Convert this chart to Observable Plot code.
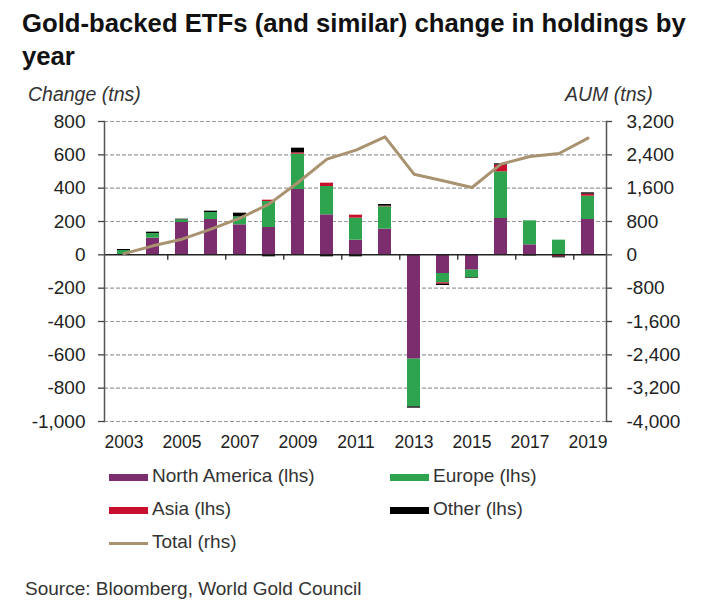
<!DOCTYPE html>
<html><head><meta charset="utf-8">
<script src="https://cdn.jsdelivr.net/npm/d3@7"></script>
<script src="https://cdn.jsdelivr.net/npm/@observablehq/plot@0.6"></script>
<style>
body{margin:0;background:#fff;font-family:"Liberation Sans",Arial,sans-serif;}
#wrap{position:relative;width:703px;height:615px;overflow:hidden;}
#chart{position:absolute;left:0;top:0;}
.t{position:absolute;white-space:nowrap;color:#222;}
#title{left:22px;top:7px;font-weight:bold;font-size:25.7px;line-height:33px;color:#111;}
.unit{font-style:italic;font-size:19.5px;top:83px;color:#333;}
.leg{position:absolute;font-size:19px;color:#333;white-space:nowrap;}
.sw{position:absolute;width:39px;}
#source{left:25px;top:578px;font-size:19px;color:#333;}
</style></head><body>
<div id="wrap">
  <div id="chart"></div>
  <div id="title" class="t">Gold-backed ETFs (and similar) change in holdings by<br>year</div>
  <div class="t unit" style="left:28px;">Change (tns)</div>
  <div class="t unit" style="left:565px;">AUM (tns)</div>
  <div id="legend"></div>
  <div id="source" class="t">Source: Bloomberg, World Gold Council</div>
</div>
<script>
const years = [2003,2004,2005,2006,2007,2008,2009,2010,2011,2012,2013,2014,2015,2016,2017,2018,2019];
const northAmerica = [2,100,194,212,180,164,392,240,88,154,-626,-112,-92,218,60,-4,212];
const europe = [24,28,16,42,48,156,212,170,132,134,-286,-56,-44,280,144,88,140];
const asia = [0,0,0,0,0,8,8,20,18,4,0,-8,0,40,-3,-8,12];
const other = [6,8,4,8,22,-12,28,-12,-12,10,-8,-8,-4,8,-4,-6,8];
const totalAUM = [30,216,376,616,880,1216,1736,2296,2512,2832,1936,1776,1616,2176,2360,2432,2800];
const leftTicks = [800,600,400,200,0,-200,-400,-600,-800,-1000];
const xLabelYears = [2003,2005,2007,2009,2011,2013,2015,2017,2019];
const boundaryYears = [2004,2006,2008,2010,2012,2014,2016,2018];
const seriesNames = ["North America (lhs)","Europe (lhs)","Asia (lhs)","Other (lhs)"];
const seriesColors = ["#7B2D6E","#2EA44F","#C8102E","#000000"];
const lineName = "Total (rhs)";
const lineColor = "#A89270";
const rhsRatio = 4;

const seriesValues = [northAmerica, europe, asia, other];
const barData = [];
years.forEach((y,i)=>{
  seriesNames.forEach((s,k)=>{ barData.push({year:y, series:s, value:seriesValues[k][i]}); });
});
const lineData = years.map((y,i)=>({year:y, aum: totalAUM[i]/rhsRatio}));

const fmt = d => d3.format(",")(d).replace("\u2212","-");
const W = 703, mL = 104, mR = 97;
const step = (W - mL - mR) / years.length;

const plot = Plot.plot({
  width: W, height: 460,
  marginLeft: mL, marginRight: mR, marginTop: 121, marginBottom: 39,
  style: {fontFamily: '"Liberation Sans", Arial, sans-serif', color: "#222", background: "transparent"},
  x: {type: "band", domain: years, paddingInner: 0.56, paddingOuter: 0.28, axis: null},
  y: {domain: [-1000, 800], axis: null},
  color: {domain: seriesNames, range: seriesColors},
  marks: [
    Plot.ruleY(leftTicks.filter(d=>d!==0), {stroke:"#9a9a9a", strokeWidth:1.2, strokeDasharray:"4,2"}),
    Plot.barY(barData, {x:"year", y:"value", fill:"series", order: null}),
    Plot.ruleY([0], {stroke:"#222", strokeWidth:1.5}),
    Plot.ruleX(boundaryYears, {x:d=>d, y1:0, y2:-33, dx: step/2, stroke:"#222", strokeWidth:1.3}),
    Plot.line(lineData, {x:"year", y:"aum", stroke: lineColor, strokeWidth: 3}),
    Plot.frame({anchor:"left", stroke:"#555", strokeWidth:1.5}),
    Plot.frame({anchor:"right", stroke:"#555", strokeWidth:1.5}),
    Plot.axisY({anchor:"left", ticks: leftTicks, tickFormat: fmt, tickSize: 6, tickPadding: 13, fontSize: 19, stroke:"#444", strokeWidth:1.3, label: null}),
    Plot.axisY({anchor:"right", ticks: leftTicks, tickFormat: d=>fmt(d*rhsRatio), tickSize: 5, tickPadding: 15, fontSize: 19, stroke:"#444", strokeWidth:1.3, label: null}),
    Plot.axisX({anchor:"bottom", ticks: xLabelYears, tickFormat: d=>String(d), tickSize: 0, tickPadding: 14, fontSize: 17.5, label: null})
  ]
});
document.getElementById("chart").appendChild(plot);

// legend
const legend = document.getElementById("legend");
const legItems = [
  {name: seriesNames[0], color: seriesColors[0], x:109, y:465, line:false},
  {name: seriesNames[1], color: seriesColors[1], x:390, y:465, line:false},
  {name: seriesNames[2], color: seriesColors[2], x:109, y:498, line:false},
  {name: seriesNames[3], color: seriesColors[3], x:390, y:498, line:false},
  {name: lineName, color: lineColor, x:109, y:531, line:true}
];
legItems.forEach(it=>{
  const sw = document.createElement("div");
  sw.className = "sw";
  sw.style.left = it.x + "px";
  sw.style.background = it.color;
  if (it.line) { sw.style.top = (it.y + 11) + "px"; sw.style.height = "3px"; }
  else { sw.style.top = (it.y + 9) + "px"; sw.style.height = "7px"; }
  legend.appendChild(sw);
  const tx = document.createElement("div");
  tx.className = "leg";
  tx.style.left = (it.x + 43) + "px";
  tx.style.top = it.y + "px";
  tx.textContent = it.name;
  legend.appendChild(tx);
});
</script>
</body></html>
